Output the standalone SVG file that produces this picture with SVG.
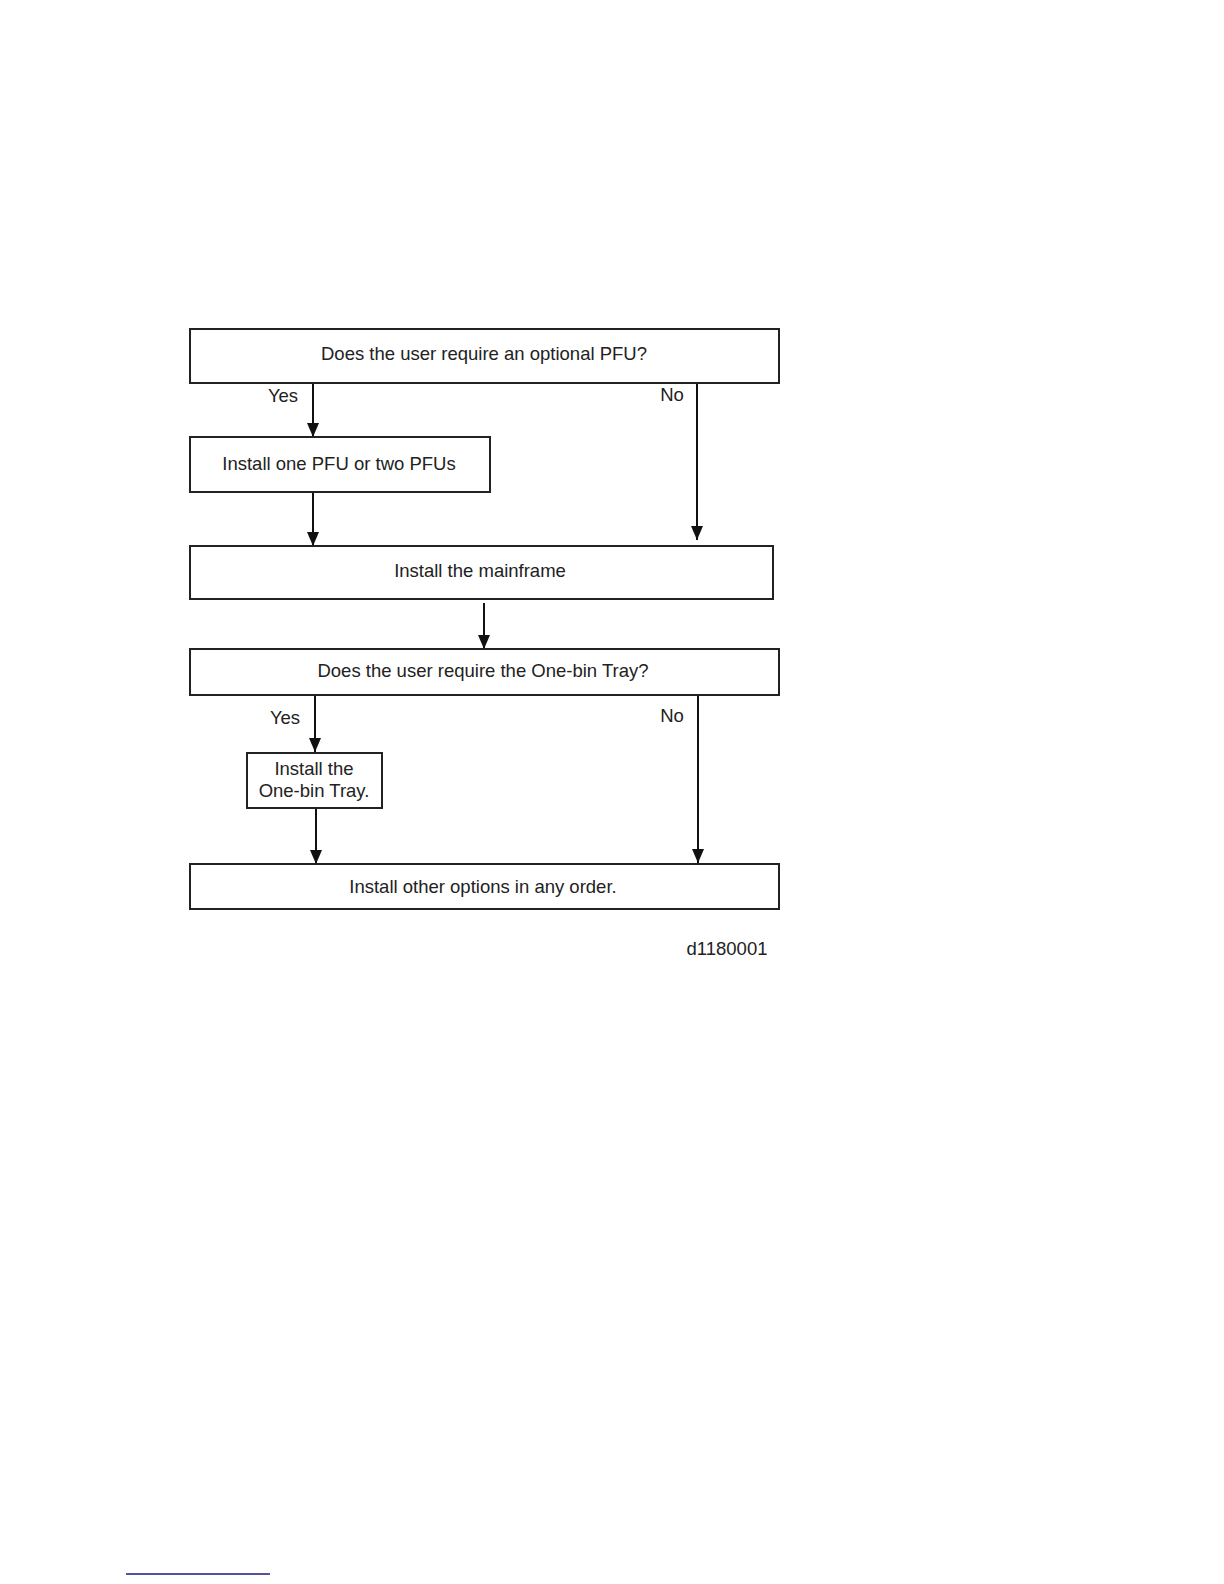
<svg xmlns="http://www.w3.org/2000/svg" width="1224" height="1584" viewBox="0 0 1224 1584">
<style>
.box{fill:#fff;stroke:#222;stroke-width:2}
.t{font-family:"Liberation Sans",Arial,sans-serif;font-size:18.5px;fill:#222;text-anchor:middle}
.c{stroke:#111;stroke-width:2;fill:none;marker-end:url(#ah)}
</style>
<defs>
<marker id="ah" markerUnits="userSpaceOnUse" markerWidth="14" markerHeight="12" viewBox="0 0 14 12" refX="14" refY="6" orient="auto">
<path d="M0,0 L14,6 L0,12 Z" fill="#111"/>
</marker>
</defs>
<rect width="1224" height="1584" fill="#fff"/>
<g id="connectors">
<line class="c" x1="313" y1="383" x2="313" y2="437"/>
<line class="c" x1="697" y1="383" x2="697" y2="540"/>
<line class="c" x1="313" y1="492" x2="313" y2="546"/>
<line class="c" x1="484" y1="603" x2="484" y2="649"/>
<line class="c" x1="315" y1="695" x2="315" y2="752"/>
<line class="c" x1="698" y1="695" x2="698" y2="863"/>
<line class="c" x1="316" y1="808" x2="316" y2="864"/>
<text class="t" x="283" y="402">Yes</text>
<text class="t" x="672" y="401">No</text>
<text class="t" x="285" y="724">Yes</text>
<text class="t" x="672" y="722">No</text>
</g>
<g id="q1">
<rect class="box" x="190" y="329" width="589" height="54"/>
<text class="t" x="484" y="360">Does the user require an optional PFU?</text>
</g>
<g id="pfu">
<rect class="box" x="190" y="437" width="300" height="55"/>
<text class="t" x="339" y="470">Install one PFU or two PFUs</text>
</g>
<g id="mainframe">
<rect class="box" x="190" y="546" width="583" height="53"/>
<text class="t" x="480" y="577">Install the mainframe</text>
</g>
<g id="q2">
<rect class="box" x="190" y="649" width="589" height="46"/>
<text class="t" x="483" y="677">Does the user require the One-bin Tray?</text>
</g>
<g id="tray">
<rect class="box" x="247" y="753" width="135" height="55"/>
<text class="t" x="314" y="775">Install the</text>
<text class="t" x="314" y="797">One-bin Tray.</text>
</g>
<g id="other">
<rect class="box" x="190" y="864" width="589" height="45"/>
<text class="t" x="483" y="893">Install other options in any order.</text>
</g>
<text class="t" x="727" y="955">d1180001</text>
<line x1="126" y1="1574" x2="270" y2="1574" stroke="#1a1a7a" stroke-width="1.5"/>
</svg>
